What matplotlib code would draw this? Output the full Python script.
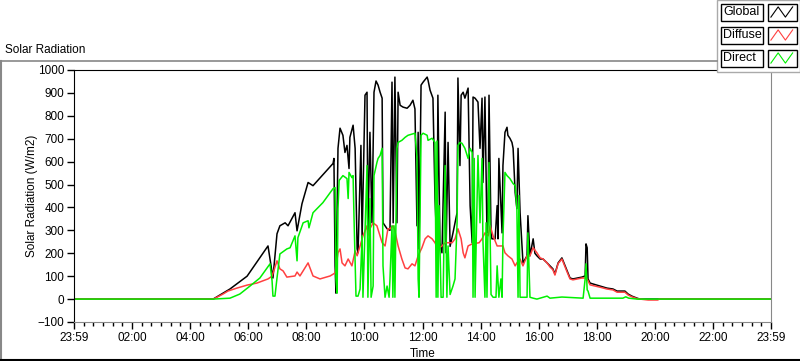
import numpy as np
import matplotlib.pyplot as plt
from matplotlib.patches import Rectangle
from matplotlib.lines import Line2D

plt.rcParams['font.family'] = ['Liberation Sans', 'DejaVu Sans']

# time in hours after 23:59, values in W/m2
global_t = [0, 4.79, 5.37, 5.96, 6.68, 6.85, 6.99, 7.09, 7.27, 7.37, 7.61, 7.68, 7.85, 8.06, 8.23,
            8.92, 8.95, 8.99, 9.02, 9.09, 9.16, 9.26, 9.33, 9.40, 9.47, 9.50, 9.61, 9.68, 9.75,
            9.78, 9.88, 9.92, 10.02, 10.09, 10.12, 10.19, 10.26, 10.33, 10.40, 10.47, 10.54,
            10.61, 10.64, 10.71, 10.78, 10.88, 10.95, 10.99, 11.05, 11.12, 11.16, 11.23, 11.33,
            11.47, 11.57, 11.67, 11.74, 11.81, 11.85, 11.88, 11.95, 12.02, 12.16, 12.19, 12.26,
            12.36, 12.43, 12.50, 12.53, 12.60, 12.67, 12.78, 12.81, 12.88, 12.95, 13.05, 13.19,
            13.22, 13.29, 13.33, 13.40, 13.46, 13.57, 13.64, 13.71, 13.74, 13.81, 13.91, 13.98,
            14.05, 14.08, 14.15, 14.22, 14.26, 14.29, 14.36, 14.39, 14.50, 14.57, 14.60, 14.63,
            14.74, 14.77, 14.84, 14.91, 14.94, 15.01, 15.08, 15.12, 15.19, 15.25, 15.29, 15.36,
            15.43, 15.46, 15.60, 15.63, 15.70, 15.81, 15.87, 15.94, 16.05, 16.15, 16.29, 16.39,
            16.49, 16.56, 16.67, 16.80, 16.98, 17.08, 17.18, 17.49, 17.60, 17.63, 17.67, 17.70,
            17.77, 17.87, 18.11, 18.35, 18.56, 18.70, 18.97, 19.08, 19.21, 19.39, 19.49, 24]
global_v = [0, 0, 44, 100, 232, 92, 285, 320, 333, 320, 377, 298, 416, 509, 495,
            592, 614, 145, 26, 658, 746, 715, 640, 671, 570, 706, 759, 658, 219,
            202, 671, 263, 890, 903, 289, 728, 333, 903, 952, 934, 903,
            877, 333, 320, 307, 300, 947, 333, 969, 333, 903, 846, 838,
            833, 846, 868, 830, 320, 728, 219, 934, 947, 969, 956, 912,
            877, 439, 219, 890, 246, 202, 816, 202, 684, 230, 289, 377,
            965, 583, 890, 903, 877, 921, 408, 246, 882, 877, 860, 658,
            877, 509, 882, 289, 350, 890, 289, 263, 263, 408, 263, 614,
            289, 583, 728, 750, 715, 702, 684, 658, 465, 395, 658, 377,
            219, 158, 189, 364, 189, 263, 200, 189, 175, 175, 158, 145,
            132, 110, 158, 180, 123, 92, 88, 96, 101, 241, 224, 88,
            70, 66, 57, 48, 44, 35, 35, 22, 13, 4, 0, 0]

diffuse_t = [0, 4.80, 5.13, 5.30, 5.61, 5.96, 6.30, 6.68, 6.82, 6.99, 7.09, 7.20, 7.33, 7.61, 7.68,
             7.78, 8.06, 8.23, 8.47, 8.82, 8.99, 9.09, 9.16, 9.23, 9.33, 9.44, 9.57, 9.68, 9.75,
             9.85, 9.95, 10.09, 10.12, 10.19, 10.30, 10.43, 10.61, 10.71, 10.81, 10.88, 10.99,
             11.05, 11.16, 11.29, 11.40, 11.50, 11.64, 11.74, 11.85, 11.98, 12.09, 12.19, 12.33,
             12.43, 12.53, 12.67, 12.78, 13.02, 13.12, 13.22, 13.33, 13.40, 13.46, 13.57, 13.71,
             13.95, 14.05, 14.15, 14.26, 14.33, 14.43, 14.57, 14.77, 14.84, 14.94, 15.08, 15.19,
             15.25, 15.36, 15.46, 15.60, 15.70, 15.81, 15.94, 16.05, 16.15, 16.29, 16.39, 16.49,
             16.56, 16.67, 16.80, 16.98, 17.08, 17.18, 17.49, 17.63, 17.70, 17.77, 18.11, 18.35,
             18.56, 18.70, 18.97, 19.08, 19.21, 19.39, 19.49, 19.77, 20.10, 20.15, 24]
diffuse_v = [0, 0, 22, 35, 48, 61, 70, 88, 100, 167, 132, 123, 96, 101, 118,
             101, 158, 101, 88, 101, 114, 202, 219, 158, 145, 175, 145, 210, 189,
             232, 276, 320, 276, 307, 333, 320, 246, 232, 307, 307, 320,
             298, 232, 175, 136, 132, 154, 145, 189, 224, 263, 276, 263,
             246, 219, 232, 246, 246, 263, 307, 263, 202, 180, 232, 241,
             246, 263, 289, 276, 320, 276, 232, 232, 202, 189, 175, 145,
             158, 175, 145, 189, 189, 224, 202, 180, 175, 158, 140, 128,
             105, 155, 175, 118, 88, 84, 92, 92, 80, 62, 52, 44,
             40, 30, 30, 18, 10, 2, 0, -4, -4, 0, 0]

direct_t = [0, 4.79, 5.37, 5.71, 6.06, 6.40, 6.75, 6.82, 6.85, 6.92, 6.99, 7.09, 7.33, 7.44, 7.61,
            7.68, 7.71, 7.89, 8.06, 8.09, 8.23, 8.57, 8.92, 8.99, 9.02, 9.06, 9.09, 9.13, 9.26,
            9.40, 9.44, 9.47, 9.57, 9.61, 9.64, 9.71, 9.78, 9.85, 9.92, 9.95, 10.09, 10.12, 10.19,
            10.23, 10.30, 10.33, 10.43, 10.47, 10.54, 10.61, 10.64, 10.71, 10.78, 10.85, 10.88,
            10.95, 10.98, 11.02, 11.05, 11.12, 11.16, 11.29, 11.40, 11.50, 11.74, 11.81, 11.85,
            11.88, 11.95, 12.02, 12.16, 12.19, 12.33, 12.43, 12.47, 12.50, 12.53, 12.57, 12.64,
            12.71, 12.78, 12.84, 12.88, 12.95, 13.05, 13.12, 13.19, 13.22, 13.29, 13.36, 13.46,
            13.57, 13.64, 13.71, 13.74, 13.78, 13.81, 13.91, 13.98, 14.05, 14.08, 14.15, 14.19,
            14.22, 14.29, 14.36, 14.43, 14.53, 14.57, 14.63, 14.70, 14.74, 14.77, 14.84, 14.91,
            15.01, 15.12, 15.19, 15.25, 15.29, 15.32, 15.36, 15.46, 15.60, 15.63, 15.70, 15.81,
            15.94, 16.05, 16.29, 16.39, 16.80, 17.53, 17.60, 17.63, 17.67, 17.70, 17.77, 18.90,
            19.00, 19.10, 19.39, 24]
direct_v = [0, 0, 4, 22, 57, 92, 154, 80, 13, 13, 92, 197, 219, 224, 276,
            167, 268, 333, 342, 311, 377, 421, 482, 487, 88, 26, 395, 518, 539,
            526, 439, 553, 530, 539, 364, 13, 13, 44, 276, 8, 583, 8, 439,
            8, 57, 539, 596, 614, 627, 658, 145, 8, 57, 8, 88,
            320, 8, 320, 8, 658, 684, 693, 706, 715, 724, 620, 88,
            8, 715, 724, 715, 693, 702, 684, 8, 690, 8, 408, 8,
            8, 583, 8, 232, 20, 57, 88, 333, 671, 684, 680, 658,
            614, 658, 640, 8, 614, 8, 627, 333, 614, 260, 8, 333,
            8, 596, 20, 8, 8, 145, 8, 88, 8, 263, 553, 539,
            526, 504, 496, 395, 8, 452, 8, 8, 8, 289, 8, 4,
            0, 4, 13, 4, 9, 4, 88, 154, 40, 35, 4, 4,
            10, 4, 0, 0]

series = [("Global", global_t, global_v, "black"),
          ("Diffuse", diffuse_t, diffuse_v, "#ff4040"),
          ("Direct", direct_t, direct_v, "#00f000")]

tick_hours = list(range(0, 25, 2))
tick_labels = ["23:59"] + [f"{h:02d}:00" for h in range(2, 24, 2)] + ["23:59"]

fig = plt.figure(figsize=(8, 3.61), dpi=100)
ax = fig.add_axes([74 / 800, 1 - 322 / 361, 697 / 800, 252 / 361])

for name, t, v, c in series:
    ax.plot(t, v, color=c, lw=1.1)

ax.set_xlim(0, 24)
ax.set_ylim(-100, 1000)
ax.set_yticks(range(-100, 1001, 100))
ax.set_xticks(tick_hours)
ax.set_xticklabels(tick_labels)
ax.set_xticks(np.arange(0, 24.01, 1 / 3), minor=True)
ax.tick_params(axis='both', which='major', labelsize=8.5, length=5, width=1, colors='black')
ax.tick_params(axis='y', which='major', pad=2)
ax.tick_params(axis='x', which='major', pad=2)
ax.tick_params(axis='x', which='minor', length=3, width=1, color='black')
ax.spines['left'].set_color('black')
ax.spines['top'].set_color('black')
ax.spines['right'].set_color('#888888')
ax.spines['bottom'].set_color('#888888')
ax.set_xlabel("Time", fontsize=8.5)
ax.xaxis.set_label_coords(0.5, -0.105)
ax.set_ylabel("Solar Radiation (W/m2)", fontsize=8.5)
ax.yaxis.set_label_coords(-0.052, 0.5)

# outer frame and title
fig.add_artist(Line2D([1 / 800, 717 / 800], [1 - 61 / 361] * 2, color='#888888', lw=1.2))
fig.add_artist(Line2D([1 / 800, 1 / 800], [1 - 61 / 361, 0], color='#888888', lw=1.5))
fig.add_artist(Line2D([0, 1], [1 / 361, 1 / 361], color='black', lw=1.5))
fig.text(5 / 800, 1 - 50 / 361, "Solar Radiation", fontsize=8.5, va='center', ha='left')

# legend panel
fig.add_artist(Rectangle((717 / 800, 1 - 72 / 361), 83 / 800, 72 / 361, facecolor='white',
                         edgecolor='#aaaaaa', lw=1.0))
zig_x = [0.1, 0.35, 0.6, 0.85]
zig_y = [0.2, 0.8, 0.2, 0.8]
for i, (name, t, v, c) in enumerate(series):
    yc = 12 + i * 23
    fig.add_artist(Rectangle((721 / 800, 1 - (yc + 8.5) / 361), 42 / 800, 17 / 361,
                             facecolor='white', edgecolor='black', lw=1.0))
    fig.text(723 / 800, 1 - yc / 361, name, fontsize=9, va='center', ha='left')
    fig.add_artist(Rectangle((768 / 800, 1 - (yc + 8.5) / 361), 29 / 800, 17 / 361,
                             facecolor='white', edgecolor='black', lw=1.0))
    fig.add_artist(Line2D([(768 + 29 * zx) / 800 for zx in zig_x],
                          [1 - (yc + 8.5 - 17 * zy) / 361 for zy in zig_y], color=c, lw=0.8))

fig.savefig("out.png", dpi=100)
